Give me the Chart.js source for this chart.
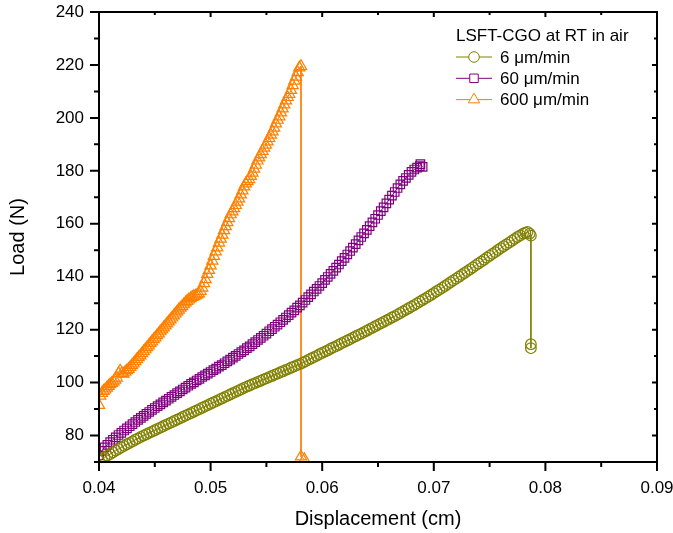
<!DOCTYPE html>
<html>
<head>
<meta charset="utf-8">
<script src="https://cdn.jsdelivr.net/npm/chart.js@4.4.0/dist/chart.umd.min.js"></script>
<style>
  html, body { margin: 0; padding: 0; background: #fff; }
</style>
</head>
<body>
<canvas id="loadChart" width="673" height="533"></canvas>
<script>
// Load vs displacement, three crosshead speeds
const legendTitle = "LSFT-CGO at RT in air";
const seriesNames = ["6 \u03bcm/min", "60 \u03bcm/min", "600 \u03bcm/min"];

const xTicks = [0.04, 0.05, 0.06, 0.07, 0.08, 0.09];
const yTicks = [80, 100, 120, 140, 160, 180, 200, 220, 240];

// 6 um/min
const dispSlow = [
  0.04, 0.04025, 0.0405, 0.04075, 0.041, 0.04125, 0.0415, 0.04175, 0.042, 0.04225,
  0.0425, 0.04275, 0.043, 0.04325, 0.0435, 0.04375, 0.044, 0.04425, 0.0445, 0.04475,
  0.045, 0.04525, 0.0455, 0.04575, 0.046, 0.04625, 0.0465, 0.04675, 0.047, 0.04725,
  0.0475, 0.04775, 0.048, 0.04825, 0.0485, 0.04875, 0.049, 0.04925, 0.0495, 0.04975,
  0.05, 0.05025, 0.0505, 0.05075, 0.051, 0.05125, 0.0515, 0.05175, 0.052, 0.05225,
  0.0525, 0.05275, 0.053, 0.05325, 0.0535, 0.05375, 0.054, 0.05425, 0.0545, 0.05475,
  0.055, 0.05525, 0.0555, 0.05575, 0.056, 0.05625, 0.0565, 0.05675, 0.057, 0.05725,
  0.0575, 0.05775, 0.058, 0.05825, 0.0585, 0.05875, 0.059, 0.05925, 0.0595, 0.05975,
  0.06, 0.06025, 0.0605, 0.06075, 0.061, 0.06125, 0.0615, 0.06175, 0.062, 0.06225,
  0.0625, 0.06275, 0.063, 0.06325, 0.0635, 0.06375, 0.064, 0.06425, 0.0645, 0.06475,
  0.065, 0.06525, 0.0655, 0.06575, 0.066, 0.06625, 0.0665, 0.06675, 0.067, 0.06725,
  0.0675, 0.06775, 0.068, 0.06825, 0.0685, 0.06875, 0.069, 0.06925, 0.0695, 0.06975,
  0.07, 0.07025, 0.0705, 0.07075, 0.071, 0.07125, 0.0715, 0.07175, 0.072, 0.07225,
  0.0725, 0.07275, 0.073, 0.07325, 0.0735, 0.07375, 0.074, 0.07425, 0.0745, 0.07475,
  0.075, 0.07525, 0.0755, 0.07575, 0.076, 0.07625, 0.0765, 0.07675, 0.077, 0.07725,
  0.0775, 0.07775, 0.078, 0.0782, 0.0784, 0.0786, 0.0787, 0.0787, 0.0787
];
const loadSlow = [
  70.5, 71.1, 71.8, 72.4, 73.0, 73.7, 74.3, 74.9, 75.5, 76.1,
  76.7, 77.2, 77.8, 78.4, 78.9, 79.5, 80.0, 80.5, 81.0, 81.5,
  82.0, 82.5, 83.0, 83.5, 84.0, 84.5, 85.0, 85.5, 86.0, 86.5,
  87.0, 87.5, 88.0, 88.5, 89.0, 89.5, 90.0, 90.5, 91.0, 91.5,
  92.0, 92.5, 93.0, 93.5, 94.0, 94.5, 95.0, 95.5, 96.0, 96.5,
  97.0, 97.5, 98.0, 98.5, 98.9, 99.4, 99.8, 100.3, 100.7, 101.2,
  101.6, 102.1, 102.5, 103.0, 103.4, 103.9, 104.3, 104.8, 105.2, 105.7,
  106.1, 106.6, 107.0, 107.5, 108.0, 108.6, 109.1, 109.6, 110.1, 110.7,
  111.2, 111.7, 112.2, 112.8, 113.3, 113.8, 114.3, 114.9, 115.4, 115.9,
  116.4, 117.0, 117.5, 118.0, 118.5, 119.1, 119.6, 120.2, 120.7, 121.3,
  121.8, 122.4, 122.9, 123.5, 124.0, 124.6, 125.1, 125.7, 126.3, 126.9,
  127.5, 128.1, 128.7, 129.3, 129.9, 130.6, 131.2, 131.8, 132.5, 133.1,
  133.8, 134.5, 135.1, 135.8, 136.5, 137.2, 137.9, 138.6, 139.3, 140.0,
  140.7, 141.4, 142.1, 142.8, 143.5, 144.3, 145.0, 145.7, 146.4, 147.2,
  147.9, 148.6, 149.3, 150.1, 150.8, 151.5, 152.2, 152.9, 153.6, 154.3,
  155.0, 155.6, 156.3, 156.6, 156.9, 156.3, 155.5, 114.5, 113.0
];

// 60 um/min
const dispMid = [
  0.04, 0.04025, 0.0405, 0.04075, 0.041, 0.04125, 0.0415, 0.04175, 0.042, 0.04225,
  0.0425, 0.04275, 0.043, 0.04325, 0.0435, 0.04375, 0.044, 0.04425, 0.0445, 0.04475,
  0.045, 0.04525, 0.0455, 0.04575, 0.046, 0.04625, 0.0465, 0.04675, 0.047, 0.04725,
  0.0475, 0.04775, 0.048, 0.04825, 0.0485, 0.04875, 0.049, 0.04925, 0.0495, 0.04975,
  0.05, 0.05025, 0.0505, 0.05075, 0.051, 0.05125, 0.0515, 0.05175, 0.052, 0.05225,
  0.0525, 0.05275, 0.053, 0.05325, 0.0535, 0.05375, 0.054, 0.05425, 0.0545, 0.05475,
  0.055, 0.05525, 0.0555, 0.05575, 0.056, 0.05625, 0.0565, 0.05675, 0.057, 0.05725,
  0.0575, 0.05775, 0.058, 0.05825, 0.0585, 0.05875, 0.059, 0.05925, 0.0595, 0.05975,
  0.06, 0.06025, 0.0605, 0.06075, 0.061, 0.06125, 0.0615, 0.06175, 0.062, 0.06225,
  0.0625, 0.06275, 0.063, 0.06325, 0.0635, 0.06375, 0.064, 0.06425, 0.0645, 0.06475,
  0.065, 0.06525, 0.0655, 0.06575, 0.066, 0.06625, 0.0665, 0.06675, 0.067, 0.06725,
  0.0675, 0.06775, 0.068, 0.06825, 0.0685, 0.06875, 0.0688, 0.069
];
const loadMid = [
  72.5, 74.2, 75.5, 76.5, 77.5, 78.4, 79.3, 80.2, 81.0, 81.9,
  82.7, 83.5, 84.3, 85.1, 85.9, 86.7, 87.4, 88.2, 88.9, 89.7,
  90.4, 91.1, 91.8, 92.5, 93.2, 93.9, 94.6, 95.3, 96.0, 96.7,
  97.4, 98.1, 98.8, 99.5, 100.1, 100.8, 101.4, 102.1, 102.7, 103.4,
  104.0, 104.7, 105.3, 106.0, 106.6, 107.3, 108.0, 108.7, 109.4, 110.1,
  110.8, 111.5, 112.2, 113.0, 113.7, 114.5, 115.3, 116.1, 116.9, 117.7,
  118.5, 119.4, 120.2, 121.1, 121.9, 122.8, 123.7, 124.6, 125.5, 126.4,
  127.3, 128.3, 129.2, 130.2, 131.2, 132.3, 133.3, 134.4, 135.4, 136.5,
  137.6, 138.8, 139.9, 141.1, 142.2, 143.4, 144.6, 145.9, 147.1, 148.4,
  149.7, 151.0, 152.3, 153.7, 155.0, 156.4, 157.7, 159.1, 160.5, 161.9,
  163.3, 164.8, 166.2, 167.7, 169.1, 170.6, 172.0, 173.5, 174.9, 176.2,
  177.3, 178.5, 179.6, 180.5, 181.2, 181.8, 182.5, 181.5
];

// 600 um/min
const dispFast = [
  0.04, 0.0401, 0.04025, 0.0404, 0.04055, 0.0407, 0.04085, 0.041, 0.04115, 0.0413,
  0.04145, 0.0416, 0.04175, 0.0419, 0.04205, 0.0422, 0.04235, 0.0425, 0.04265, 0.0428,
  0.04295, 0.0431, 0.04325, 0.0434, 0.04355, 0.0437, 0.04385, 0.044, 0.04415, 0.0443,
  0.04445, 0.0446, 0.04475, 0.0449, 0.04505, 0.0452, 0.04535, 0.0455, 0.04565, 0.0458,
  0.04595, 0.0461, 0.04625, 0.0464, 0.04655, 0.0467, 0.04685, 0.047, 0.04715, 0.0473,
  0.04745, 0.0476, 0.04775, 0.0479, 0.04805, 0.0482, 0.04835, 0.0485, 0.04865, 0.0488,
  0.04895, 0.0491, 0.04925, 0.0494, 0.04955, 0.0497, 0.04985, 0.05, 0.05015, 0.0503,
  0.05045, 0.0506, 0.05075, 0.0509, 0.05105, 0.0512, 0.05135, 0.0515, 0.05165, 0.0518,
  0.05195, 0.0521, 0.05225, 0.0524, 0.05255, 0.0527, 0.05285, 0.053, 0.05315, 0.0533,
  0.05345, 0.0536, 0.05375, 0.0539, 0.05405, 0.0542, 0.05435, 0.0545, 0.05465, 0.0548,
  0.05495, 0.0551, 0.05525, 0.0554, 0.05555, 0.0557, 0.05585, 0.056, 0.05615, 0.0563,
  0.05645, 0.0566, 0.05675, 0.0569, 0.05705, 0.0572, 0.05735, 0.0575, 0.05765, 0.0578,
  0.05795, 0.0581, 0.0581, 0.0584
];
const loadFast = [
  91.5, 95.0, 96.0, 96.8, 97.3, 98.0, 98.7, 99.3, 99.8, 100.4,
  101.0, 101.8, 103.5, 104.5, 103.5, 103.3, 104.0, 104.6, 105.1, 105.8,
  106.5, 107.2, 108.0, 108.8, 109.5, 110.2, 111.0, 111.8, 112.5, 113.3,
  114.0, 114.8, 115.5, 116.3, 117.0, 117.8, 118.5, 119.3, 120.0, 120.8,
  121.5, 122.3, 123.0, 123.8, 124.5, 125.3, 126.0, 126.8, 127.5, 128.2,
  128.8, 129.5, 130.2, 130.8, 131.3, 131.8, 132.3, 132.6, 132.8, 133.2,
  133.6, 134.5, 135.8, 137.5, 139.0, 141.0, 142.5, 144.2, 146.0, 147.8,
  149.5, 151.0, 152.8, 154.3, 155.8, 157.5, 159.0, 160.5, 162.0, 163.5,
  164.6, 165.8, 167.0, 168.3, 169.5, 171.0, 172.5, 174.0, 175.2, 176.0,
  176.8, 178.0, 179.2, 180.7, 182.2, 183.8, 185.0, 186.2, 187.4, 188.7,
  189.8, 191.0, 192.3, 193.6, 194.8, 196.2, 197.8, 199.2, 200.5, 202.0,
  203.5, 205.0, 206.5, 207.8, 209.0, 210.5, 212.3, 214.0, 215.5, 217.2,
  219.0, 219.5, 72.0, 71.0
];

const colors = ["#808000", "#800080", "#ff8000"];
const markers = ["circle", "rect", "triangle"];
const markerSize = [5.3, 6, 6.5];
const FONT = "'Liberation Sans', Arial, sans-serif";

function toPoints(xs, ys) {
  return xs.map((x, i) => ({ x: x, y: ys[i] }));
}

function isMajorX(v) {
  return Math.round(v * 1000) % 10 === 0;
}
function isMajorY(v) {
  return v % 20 === 0 && v > 70;
}

// axis frame, in/out ticks and the legend box
const frameAndLegend = {
  id: "frameAndLegend",
  afterDraw(chart) {
    const { ctx, chartArea: a, scales } = chart;
    ctx.save();
    ctx.strokeStyle = "#000";
    ctx.lineWidth = 2;
    ctx.strokeRect(a.left, a.top, a.right - a.left, a.bottom - a.top);

    ctx.beginPath();
    scales.x.ticks.forEach(t => {
      const px = scales.x.getPixelForValue(t.value);
      const major = isMajorX(t.value);
      ctx.moveTo(px, a.bottom);
      ctx.lineTo(px, a.bottom + (major ? 9 : 5));
      ctx.moveTo(px, a.top);
      ctx.lineTo(px, a.top + (major ? 5 : 3));
    });
    scales.y.ticks.forEach(t => {
      const py = scales.y.getPixelForValue(t.value);
      const major = isMajorY(t.value);
      ctx.moveTo(a.left, py);
      ctx.lineTo(a.left - (major ? 9 : 5), py);
      ctx.moveTo(a.right, py);
      ctx.lineTo(a.right - (major ? 5 : 3), py);
    });
    ctx.stroke();

    // legend
    ctx.font = "17px " + FONT;
    ctx.fillStyle = "#000";
    ctx.textBaseline = "middle";
    ctx.textAlign = "left";
    ctx.fillText(legendTitle, 456, 36);
    chart.data.datasets.forEach((ds, i) => {
      const y = 57 + i * 21.3;
      ctx.strokeStyle = ds.borderColor;
      ctx.lineWidth = 1;
      ctx.beginPath();
      ctx.moveTo(456, y);
      ctx.lineTo(492, y);
      ctx.stroke();
      ctx.fillStyle = "#fff";
      ctx.strokeStyle = ds.borderColor;
      Chart.helpers.drawPoint(ctx, {
        pointStyle: ds.pointStyle, radius: ds.pointRadius, borderWidth: 1.2, rotation: 0
      }, 474, y);
      ctx.fillStyle = "#000";
      ctx.fillText(ds.label, 500, y + 1);
    });
    ctx.restore();
  }
};

const datasets = [
  toPoints(dispSlow, loadSlow),
  toPoints(dispMid, loadMid),
  toPoints(dispFast, loadFast)
].map((pts, i) => ({
  label: seriesNames[i],
  data: pts,
  showLine: true,
  borderColor: colors[i],
  borderWidth: 1,
  pointStyle: markers[i],
  pointRadius: markerSize[i],
  pointBorderColor: colors[i],
  pointBackgroundColor: "transparent",
  pointBorderWidth: 1.2
}));

new Chart(document.getElementById("loadChart"), {
  type: "scatter",
  data: { datasets: datasets },
  options: {
    responsive: false,
    animation: false,
    layout: { padding: 0 },
    plugins: {
      legend: { display: false },
      tooltip: { enabled: false }
    },
    scales: {
      x: {
        type: "linear",
        min: xTicks[0],
        max: xTicks[xTicks.length - 1],
        grid: { display: false, drawTicks: false },
        border: { display: false },
        ticks: {
          stepSize: 0.005,
          autoSkip: false,
          maxRotation: 0,
          padding: 16,
          color: "#000",
          font: { family: FONT, size: 17 },
          callback: v => (isMajorX(v) ? v.toFixed(2) : "")
        },
        title: {
          display: true,
          text: "Displacement (cm)",
          color: "#000",
          font: { family: FONT, size: 20 },
          padding: { top: 0, bottom: 2 }
        },
        afterFit: s => {
          s.height = 71;
          s.paddingLeft = 0;
          s.paddingRight = 16;
        }
      },
      y: {
        min: 70,
        max: yTicks[yTicks.length - 1],
        grid: { display: false, drawTicks: false },
        border: { display: false },
        ticks: {
          stepSize: 10,
          autoSkip: false,
          padding: 15,
          color: "#000",
          font: { family: FONT, size: 17 },
          callback: v => (isMajorY(v) ? String(v) : "")
        },
        title: {
          display: true,
          text: "Load (N)",
          color: "#000",
          font: { family: FONT, size: 20 },
          padding: { top: 6, bottom: 0 }
        },
        afterFit: s => {
          s.width = 99;
          s.paddingTop = 12;
          s.paddingBottom = 0;
        }
      }
    }
  },
  plugins: [frameAndLegend]
});
</script>
</body>
</html>
